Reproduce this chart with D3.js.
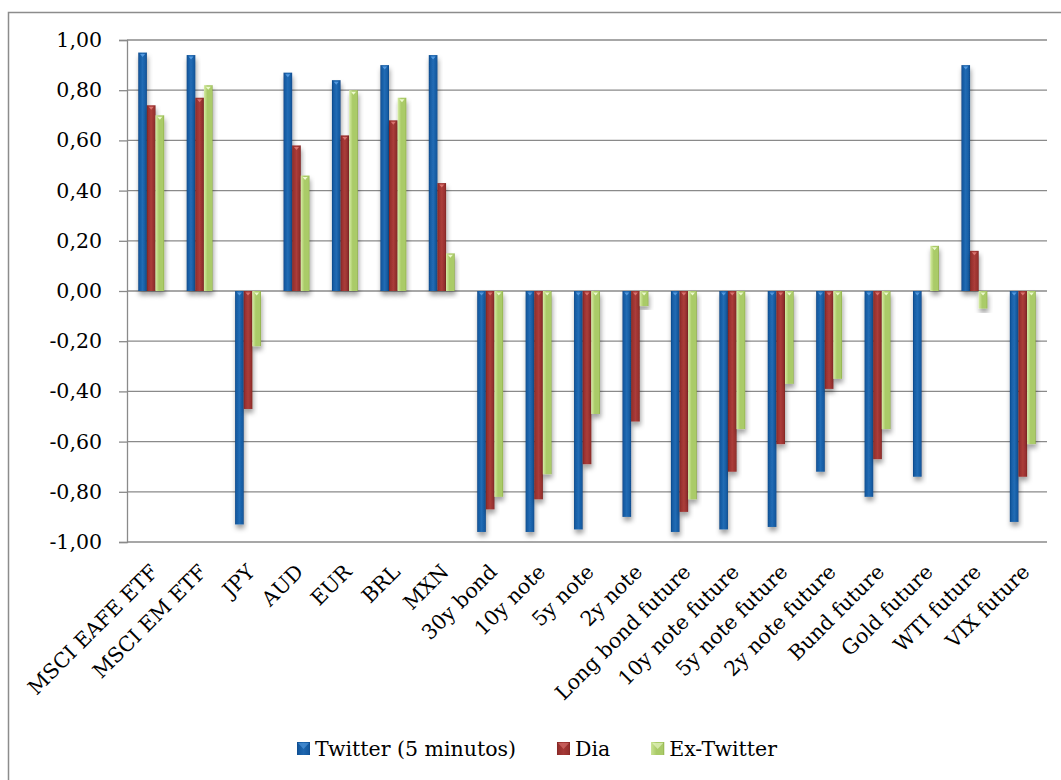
<!DOCTYPE html>
<html>
<head>
<meta charset="utf-8">
<script src="https://cdn.jsdelivr.net/npm/d3@7"></script>
<style>
  html, body { margin: 0; padding: 0; background: #fff; }
  svg { display: block; }
  text { font-family: "DejaVu Serif", "Liberation Serif", serif; fill: #000; }
</style>
</head>
<body>
<svg id="chart" width="1061" height="780"></svg>
<script>
// Correlations per asset, three measurement windows
const categories = [
  "MSCI EAFE ETF", "MSCI EM ETF", "JPY", "AUD", "EUR", "BRL", "MXN",
  "30y bond", "10y note", "5y note", "2y note", "Long bond future",
  "10y note future", "5y note future", "2y note future", "Bund future",
  "Gold future", "WTI future", "VIX future"
];

const seriesNames = ["Twitter (5 minutos)", "Dia", "Ex-Twitter"];

const twitter5m = [0.95, 0.94, -0.93, 0.87, 0.84, 0.90, 0.94, -0.96, -0.96, -0.95, -0.90, -0.96, -0.95, -0.94, -0.72, -0.82, -0.74, 0.90, -0.92];
const dia       = [0.74, 0.77, -0.47, 0.58, 0.62, 0.68, 0.43, -0.87, -0.83, -0.69, -0.52, -0.88, -0.72, -0.61, -0.39, -0.67, 0, 0.16, -0.74];
const exTwitter = [0.70, 0.82, -0.22, 0.46, 0.80, 0.77, 0.15, -0.82, -0.73, -0.49, -0.06, -0.83, -0.55, -0.37, -0.35, -0.55, 0.18, -0.07, -0.61];

const yTicks = [1, 0.8, 0.6, 0.4, 0.2, 0, -0.2, -0.4, -0.6, -0.8, -1];
</script>
<script>
const svg = d3.select("#chart");
const defs = svg.append("defs");
const FONT = 20.5;

const seriesValues = [twitter5m, dia, exTwitter];
const palette = [
  { dark: "#0e4584", mid: "#145aa1", light: "#226cb5", tri: "#5aa0e6" },
  { dark: "#7a2220", mid: "#97302e", light: "#ab3d3a", tri: "#e07a76" },
  { dark: "#86a53e", mid: "#aacb68", light: "#d6eca4", tri: "#f4ffd8" }
];

// Horizontal gradients for the cylinder-like bar shading
palette.forEach((p, i) => {
  const g = defs.append("linearGradient").attr("id", "grad" + i)
    .attr("x1", "0").attr("x2", "1").attr("y1", "0").attr("y2", "0");
  if (i === 2) {
    g.append("stop").attr("offset", "0%").attr("stop-color", p.light);
    g.append("stop").attr("offset", "40%").attr("stop-color", p.mid);
    g.append("stop").attr("offset", "88%").attr("stop-color", p.mid);
    g.append("stop").attr("offset", "100%").attr("stop-color", p.dark);
  } else {
    g.append("stop").attr("offset", "0%").attr("stop-color", p.dark);
    g.append("stop").attr("offset", "14%").attr("stop-color", p.mid);
    g.append("stop").attr("offset", "50%").attr("stop-color", p.light);
    g.append("stop").attr("offset", "88%").attr("stop-color", p.mid);
    g.append("stop").attr("offset", "100%").attr("stop-color", p.dark);
  }
});

const shadow = defs.append("filter").attr("id", "shadow")
  .attr("x", "-60%").attr("y", "-10%").attr("width", "220%").attr("height", "130%");
shadow.append("feDropShadow").attr("dx", 1).attr("dy", 4).attr("stdDeviation", 2.5)
  .attr("flood-color", "#000").attr("flood-opacity", 0.38);

// Outer chart frame
svg.append("rect")
  .attr("x", 8.5).attr("y", 12.5).attr("width", 1070).attr("height", 800)
  .attr("fill", "none").attr("stroke", "#8c8c8c").attr("stroke-width", 1.5);

const plot = { left: 127, right: 1047, top: 40, bottom: 542 };

const x = d3.scaleBand().domain(categories).range([plot.left, plot.right]).padding(0);
const y = d3.scaleLinear().domain([-1, 1]).range([plot.bottom, plot.top]);
const groupW = x.bandwidth() * 0.535;
const xs = d3.scaleBand().domain(d3.range(3)).range([0, groupW]).padding(0);

const fmt = v => d3.format(".2f")(v).replace(".", ",").replace("\u2212", "-");

// Value axis with ticks
const yAxis = d3.axisLeft(y).tickValues(yTicks).tickSize(8).tickFormat(fmt);
const gy = svg.append("g").attr("transform", `translate(${plot.left},0)`).call(yAxis);
gy.attr("font-family", null).attr("font-size", null);
gy.select(".domain").attr("stroke", "#8a8a8a").attr("stroke-width", 1.3);
gy.selectAll(".tick line").attr("stroke", "#8a8a8a").attr("stroke-width", 1.3);
gy.selectAll(".tick text").attr("x", -25).attr("font-size", FONT);

// Horizontal gridlines
svg.append("g").selectAll("line").data(yTicks).join("line")
  .attr("x1", plot.left).attr("x2", plot.right)
  .attr("y1", d => y(d)).attr("y2", d => y(d))
  .attr("stroke", "#8a8a8a").attr("stroke-width", 1.3);

// Bars
const rows = categories.map((c, i) => ({ c, vals: seriesValues.map(s => s[i]) }));
const groups = svg.append("g").selectAll("g").data(rows).join("g")
  .attr("transform", d => `translate(${x(d.c) + (x.bandwidth() - groupW) / 2},0)`);

groups.each(function(d) {
  const g = d3.select(this);
  d.vals.forEach((v, si) => {
    if (!v) return;
    const bx = xs(si), bw = xs.bandwidth();
    const y0 = y(Math.max(0, v)), y1 = y(Math.min(0, v));
    const bg = g.append("g").attr("filter", "url(#shadow)");
    bg.append("rect").attr("x", bx).attr("y", y0).attr("width", bw).attr("height", y1 - y0)
      .attr("fill", `url(#grad${si})`);
    // bevel highlight at the top end
    const tx = bx + bw / 2;
    bg.append("path")
      .attr("d", `M${tx - 2.5},${y0 + 1.5}L${tx + 2.5},${y0 + 1.5}L${tx},${y0 + 4.5}Z`)
      .attr("fill", palette[si].tri).attr("opacity", 0.9);
  });
});

// Category labels, rotated 45 degrees
svg.append("g").selectAll("text").data(categories).join("text")
  .attr("transform", d => `translate(${x(d) + x.bandwidth() / 2 + 3},${plot.bottom + 26}) rotate(-45)`)
  .attr("text-anchor", "end").attr("dy", "0.35em")
  .attr("font-size", FONT).text(d => d);

// Legend, spread between fixed outer edges using measured label widths
const lg = svg.append("g").selectAll("g").data(seriesNames).join("g");
lg.append("rect").attr("width", 13).attr("height", 13)
  .attr("fill", (d, i) => palette[i].mid);
lg.append("rect").attr("width", 13).attr("height", 13)
  .attr("fill", (d, i) => `url(#grad${i})`).attr("opacity", 0.7);
lg.append("path").attr("d", "M1,1L12,1L6.5,7Z")
  .attr("fill", (d, i) => palette[i].tri).attr("opacity", 0.55);
lg.append("text").attr("x", 18).attr("y", 6.5).attr("dy", "0.35em")
  .attr("font-size", FONT).text(d => d);
const widths = [];
lg.select("text").each(function() { widths.push(18 + this.getComputedTextLength()); });
const legendLeft = 297, legendRight = 777;
const gap = (legendRight - legendLeft - d3.sum(widths)) / (widths.length - 1);
let cursor = legendLeft;
lg.attr("transform", (d, i) => {
  const t = `translate(${cursor},742)`;
  cursor += widths[i] + gap;
  return t;
});
</script>
</body>
</html>
